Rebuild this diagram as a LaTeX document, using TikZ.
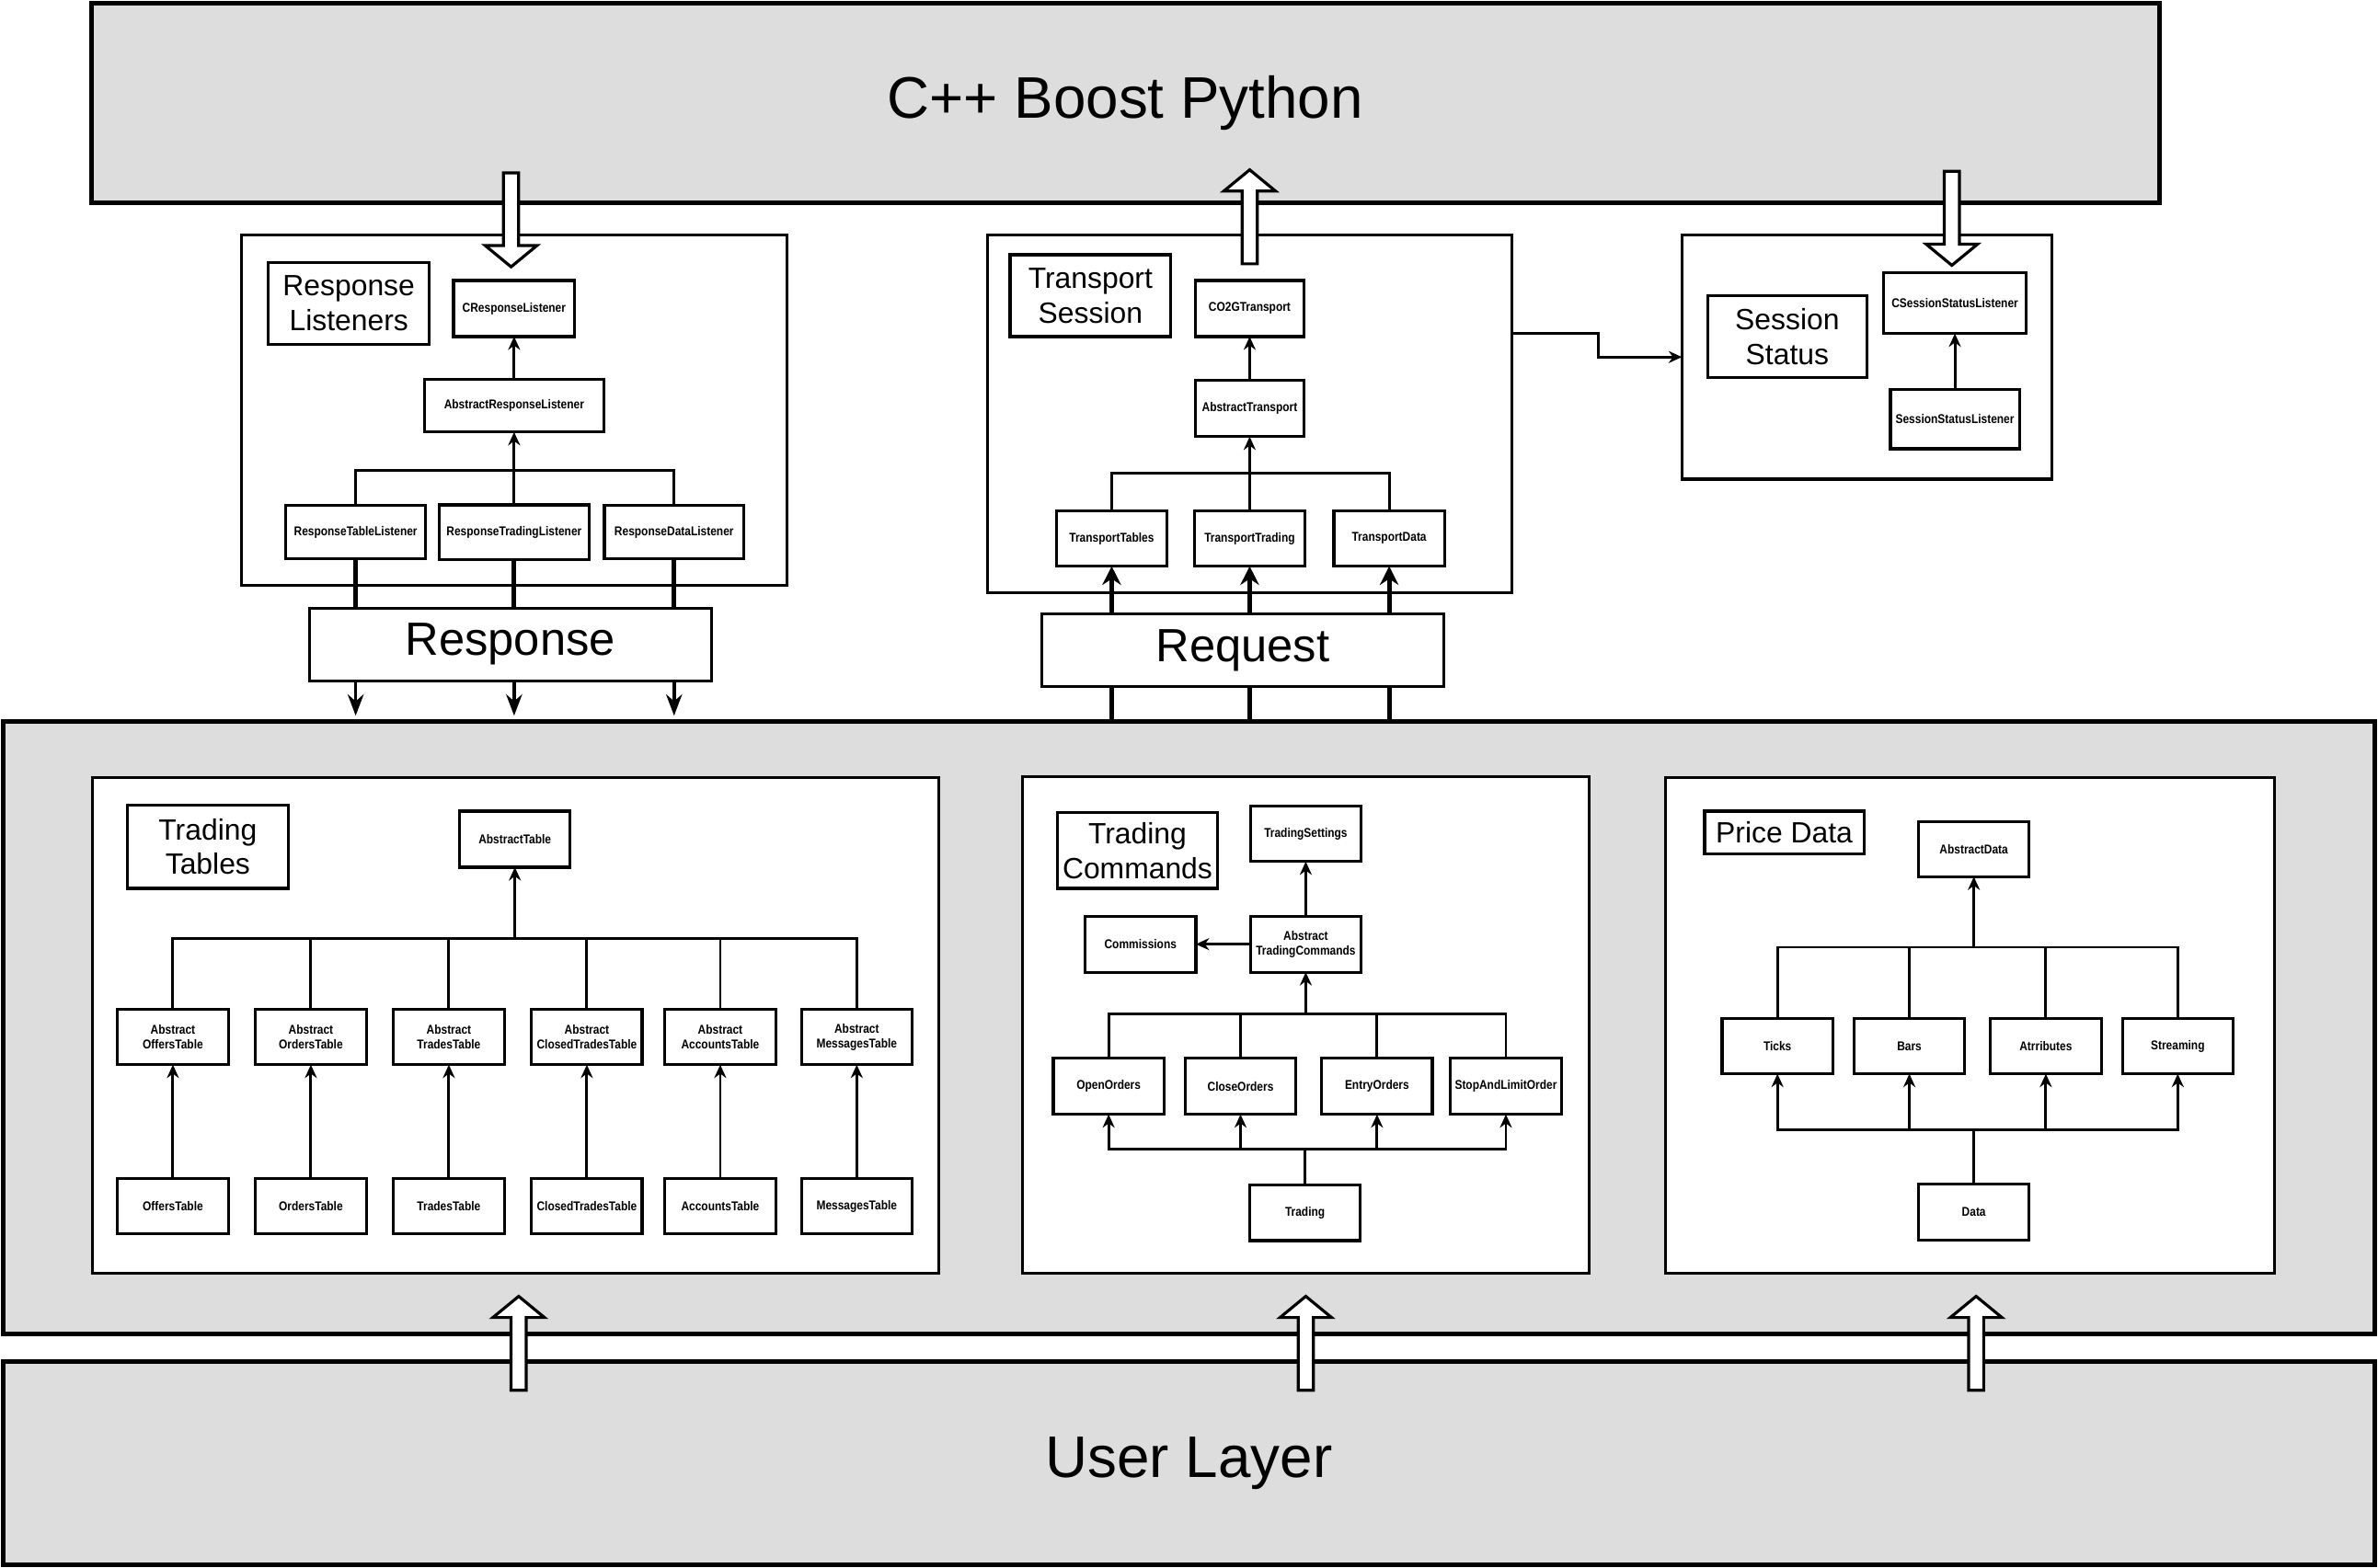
\documentclass[tikz,border=0pt]{standalone}
\usepackage{fontspec}
\setmainfont{Liberation Sans}
\newfontfamily\narrowfont[FakeStretch=0.86]{Liberation Sans}
\usepackage{xcolor}
\usetikzlibrary{arrows.meta,positioning}
\definecolor{layergray}{RGB}{221,221,221}

\begin{document}
\begin{tikzpicture}[
    x=0.02cm, y=-0.02cm,
    node distance=0.3cm and 0.3cm,
    layerbox/.style={rectangle, draw, line width=1.7pt, fill=layergray, inner sep=0pt, outer sep=0pt, font=\fontsize{22}{26}\selectfont},
    groupbox/.style={rectangle, draw, line width=1.1pt, fill=white, inner sep=0pt, outer sep=0pt},
    grouptitle/.style={rectangle, draw, line width=1.1pt, fill=white, inner sep=0pt, outer sep=0pt, align=center, minimum width=2.12cm, minimum height=1.08cm, font=\fontsize{11}{13}\selectfont},
    cls/.style={rectangle, draw, line width=1.1pt, fill=white, inner sep=0pt, outer sep=0pt, align=center, minimum width=1.46cm, minimum height=0.73cm, font=\narrowfont\bfseries\fontsize{4.8}{5.4}\selectfont},
    channel/.style={rectangle, draw, line width=1.1pt, fill=white, inner sep=0pt, outer sep=0pt, minimum width=5.3cm, minimum height=0.96cm, font=\fontsize{17.5}{20}\selectfont},
    wire/.style={line width=1pt},
    link/.style={-{Stealth[length=5pt, width=4.5pt]}, line width=1pt},
    reqarrow/.style={-{Stealth[length=7pt, width=7pt]}, line width=1.7pt},
    resparrow/.style={-{Stealth[length=8pt, width=6pt]}, line width=1.2pt, shorten >=0.08cm},
    hollow arrow/.pic={\draw[line width=1.1pt, fill=white] (-5,0) -- (-5,48) -- (-17,48) -- (0,62) -- (17,48) -- (5,48) -- (5,0) -- cycle;},
  ]
  \useasboundingbox (0,0) rectangle (1568,1034);

  % Layers
  \node[layerbox, minimum width=27.28cm, minimum height=2.64cm] (boost) at (742,68) {C++ Boost Python};
  \node[layerbox, minimum width=31.28cm, minimum height=8.08cm] (band) at (784,678) {};
  \node[layerbox, minimum width=31.28cm, minimum height=2.68cm] (user) at (784,965) {User Layer};

  % Response Listeners
  \node[groupbox, minimum width=7.2cm, minimum height=4.62cm] (listeners) at (339,270.5) {};
  \node[grouptitle] (listenerstitle) at (230,200) {Response\\Listeners};
  \node[cls, minimum width=1.6cm, minimum height=0.74cm] (crl) at (339,203.5) {CResponseListener};
  \node[cls, minimum width=2.36cm, minimum height=0.7cm, below=0.56cm of crl] (arl) {AbstractResponseListener};
  \node[cls, minimum width=1.98cm, minimum height=0.72cm, below=0.96cm of arl] (rtrl) {ResponseTradingListener};
  \node[cls, minimum width=1.84cm, minimum height=0.7cm, left=0.18cm of rtrl] (rtl) {ResponseTableListener};
  \node[cls, minimum width=1.84cm, minimum height=0.7cm, right=0.2cm of rtrl] (rdl) {ResponseDataListener};

  % Transport Session
  \node[groupbox, minimum width=6.92cm, minimum height=4.72cm] (transport) at (824,273) {};
  \node[grouptitle] (transporttitle) at (719,195) {Transport\\Session};
  \node[cls, minimum width=1.44cm, minimum height=0.74cm] (co2g) at (824,203.5) {CO2GTransport};
  \node[cls, minimum width=1.44cm, minimum height=0.74cm, below=0.58cm of co2g] (abtr) {AbstractTransport};
  \node[cls, below=0.98cm of abtr] (trtrd) {TransportTrading};
  \node[cls, left=0.36cm of trtrd] (trtab) {TransportTables};
  \node[cls, right=0.38cm of trtrd] (trdat) {TransportData};

  % Session Status
  \node[groupbox, minimum width=4.88cm, minimum height=3.22cm] (session) at (1231,235.5) {};
  \node[grouptitle, minimum width=2.1cm] (sessiontitle) at (1178.5,222) {Session\\Status};
  \node[cls, minimum width=1.88cm, minimum height=0.8cm] (cssl) at (1289,200) {CSessionStatusListener};
  \node[cls, minimum width=1.7cm, minimum height=0.78cm, below=0.74cm of cssl] (ssl) {SessionStatusListener};

  % Request / Response
  \node[channel] (response) at (336.5,425) {Response};
  \node[channel] (request) at (819.5,429) {Request};

  % Trading Tables
  \node[groupbox, minimum width=11.16cm, minimum height=6.54cm] (tables) at (340,676.5) {};
  \node[grouptitle, minimum height=1.1cm] (tablestitle) at (137,558.5) {Trading\\Tables};
  \node[cls, minimum height=0.74cm] (abtab) at (339.5,553.5) {AbstractTable};
  \node[cls] (aoffers) at (114,684) {Abstract\\OffersTable};
  \node[cls, right=0.36cm of aoffers] (aorders) {Abstract\\OrdersTable};
  \node[cls, right=0.36cm of aorders] (atrades) {Abstract\\TradesTable};
  \node[cls, right=0.36cm of atrades] (aclosed) {Abstract\\ClosedTradesTable};
  \node[cls, right=0.3cm of aclosed] (aaccounts) {Abstract\\AccountsTable};
  \node[cls, right=0.34cm of aaccounts] (amsgs) {Abstract\\MessagesTable};
  \node[cls, below=1.5cm of aoffers] (offers) {OffersTable};
  \node[cls, below=1.5cm of aorders] (orders) {OrdersTable};
  \node[cls, below=1.5cm of atrades] (trades) {TradesTable};
  \node[cls, below=1.5cm of aclosed] (closed) {ClosedTradesTable};
  \node[cls, below=1.5cm of aaccounts] (accounts) {AccountsTable};
  \node[cls, below=1.5cm of amsgs] (msgs) {MessagesTable};

  % Trading Commands
  \node[groupbox, minimum width=7.48cm, minimum height=6.56cm] (commands) at (861,676) {};
  \node[grouptitle, minimum height=1.0cm] (commandstitle) at (750,561) {Trading\\Commands};
  \node[cls] (tset) at (861,550) {TradingSettings};
  \node[cls, minimum height=0.74cm, below=0.72cm of tset] (atc) {Abstract\\TradingCommands};
  \node[cls, minimum height=0.74cm, left=0.72cm of atc] (comm) {Commissions};
  \node[cls, minimum height=0.74cm] (open) at (731,716.5) {OpenOrders};
  \node[cls, minimum height=0.74cm, right=0.28cm of open] (close) {CloseOrders};
  \node[cls, minimum height=0.74cm, right=0.34cm of close] (entry) {EntryOrders};
  \node[cls, minimum height=0.74cm, right=0.24cm of entry] (stop) {StopAndLimitOrder};
  \node[cls] (trading) at (860.5,800) {Trading};

  % Price Data
  \node[groupbox, minimum width=8.04cm, minimum height=6.54cm] (prices) at (1299,676.5) {};
  \node[grouptitle, minimum width=2.1cm, minimum height=0.56cm] (pricestitle) at (1176.5,549) {Price Data};
  \node[cls] (abdata) at (1301.5,560) {AbstractData};
  \node[cls] (ticks) at (1172,690) {Ticks};
  \node[cls, right=0.28cm of ticks] (bars) {Bars};
  \node[cls, right=0.34cm of bars] (attr) {Atrributes};
  \node[cls, right=0.28cm of attr] (stream) {Streaming};
  \node[cls, minimum height=0.74cm] (data) at (1301.5,799.5) {Data};

  % Listener hierarchy
  \draw[link] (arl) -- (crl);
  \draw[link] (rtrl) -- (arl);
  \draw[wire] (rtl.north) -- ++(0,-23) -| (rdl.north);

  % Transport hierarchy
  \draw[link] (abtr) -- (co2g);
  \draw[link] (trtrd) -- (abtr);
  \draw[wire] (trtab.north) -- ++(0,-25) -| (trdat.north);
  \draw[link] ([yshift=1.06cm]transport.east) -- ++(57,0) |- (session.west);
  \draw[link] (ssl) -- (cssl);

  % Response side
  \draw[wire, line width=1.7pt] (rtl) -- (rtl |- response.north);
  \draw[wire, line width=1.7pt] (rtrl) -- (rtrl |- response.north);
  \draw[wire, line width=1.7pt] (rdl) -- (rdl |- response.north);
  \draw[resparrow] (rtl |- response.south) -- (rtl |- band.north);
  \draw[resparrow] (rtrl |- response.south) -- (rtrl |- band.north);
  \draw[resparrow] (rdl |- response.south) -- (rdl |- band.north);

  % Request side
  \draw[wire, line width=1.7pt] (trtab |- band.north) -- (trtab |- request.south);
  \draw[wire, line width=1.7pt] (trtrd |- band.north) -- (trtrd |- request.south);
  \draw[wire, line width=1.7pt] (trdat |- band.north) -- (trdat |- request.south);
  \draw[reqarrow] (trtab |- request.north) -- (trtab);
  \draw[reqarrow] (trtrd |- request.north) -- (trtrd);
  \draw[reqarrow] (trdat |- request.north) -- (trdat);

  % Tables hierarchy
  \draw[wire] (aoffers.north) -- ++(0,-47) coordinate (tbus) -| (amsgs.north);
  \draw[wire] (aorders.north) -- (aorders.north |- tbus);
  \draw[wire] (atrades.north) -- (atrades.north |- tbus);
  \draw[wire] (aclosed.north) -- (aclosed.north |- tbus);
  \draw[wire] (aaccounts.north) -- (aaccounts.north |- tbus);
  \draw[link] (tbus -| abtab) -- (abtab);
  \draw[link] (offers) -- (aoffers);
  \draw[link] (orders) -- (aorders);
  \draw[link] (trades) -- (atrades);
  \draw[link] (closed) -- (aclosed);
  \draw[link] (accounts) -- (aaccounts);
  \draw[link] (msgs) -- (amsgs);

  % Commands hierarchy
  \draw[link] (atc) -- (tset);
  \draw[link] (atc) -- (comm);
  \draw[wire] (open.north) -- ++(0,-29) coordinate (cbus) -| (stop.north);
  \draw[wire] (close.north) -- (close.north |- cbus);
  \draw[wire] (entry.north) -- (entry.north |- cbus);
  \draw[link] (cbus -| atc) -- (atc);
  \draw[wire] (trading.north) -- ++(0,-24) coordinate (obus);
  \draw[link] (obus) -| (open);
  \draw[link] (obus) -| (close);
  \draw[link] (obus) -| (entry);
  \draw[link] (obus) -| (stop);

  % Data hierarchy
  \draw[wire] (ticks.north) -- ++(0,-47) coordinate (pbus) -| (stream.north);
  \draw[wire] (bars.north) -- (bars.north |- pbus);
  \draw[wire] (attr.north) -- (attr.north |- pbus);
  \draw[link] (pbus -| abdata) -- (abdata);
  \draw[wire] (data.north) -- ++(0,-36) coordinate (dbus);
  \draw[link] (dbus) -| (ticks);
  \draw[link] (dbus) -| (bars);
  \draw[link] (dbus) -| (attr);
  \draw[link] (dbus) -| (stream);

  % Block arrows between layers
  \pic at (337,114) {hollow arrow};
  \pic[rotate=180] at (824,174) {hollow arrow};
  \pic at (1287,113) {hollow arrow};
  \pic[rotate=180] at (342,917) {hollow arrow};
  \pic[rotate=180] at (861,917) {hollow arrow};
  \pic[rotate=180] at (1303,917) {hollow arrow};
\end{tikzpicture}
\end{document}
